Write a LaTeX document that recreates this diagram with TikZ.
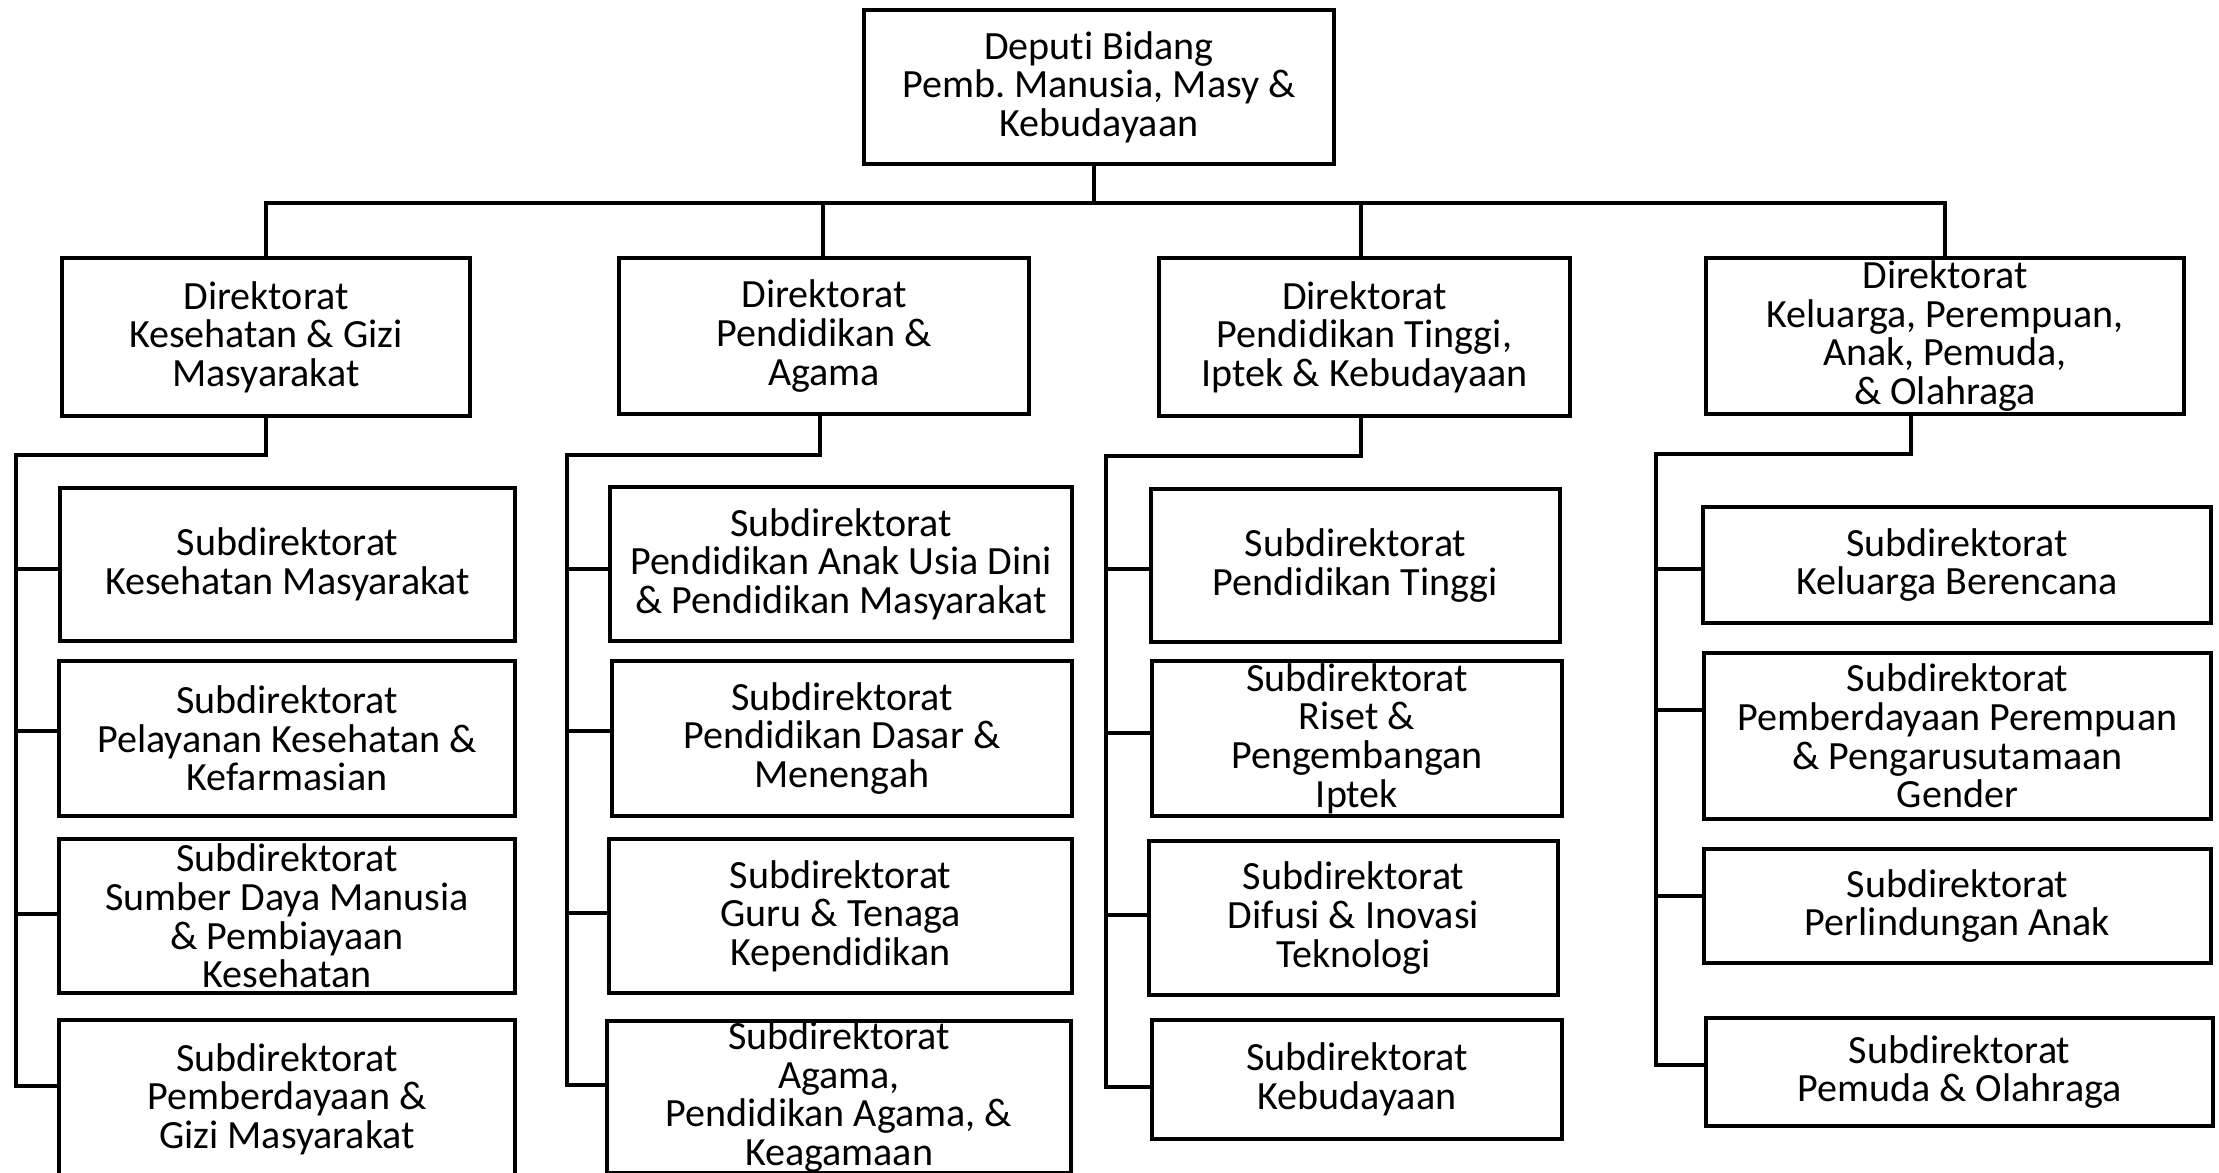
\documentclass[tikz,border=0pt]{standalone}
\usepackage{fontspec}
\setmainfont{Carlito}[Ligatures=NoCommon]
\frenchspacing
\newcommand\orgbox[6]{\node[orgb, minimum width={(#4-#2-4)*0.02cm}, minimum height={(#5-#3-4)*0.02cm}] (#1) at ({(#2+#4)/2},{(#3+#5)/2}) {#6};}
\begin{document}
\begin{tikzpicture}[x=0.02cm,y=-0.02cm,
  orgb/.style={draw=black, line width=2.3pt, align=center, inner sep=0pt, fill=white,
    font=\fontsize{22.8}{22}\selectfont},
  conn/.style={draw=black, line width=1.9pt}]
\useasboundingbox (0,0) rectangle (2219,1173);
\clip (0,0) rectangle (2219,1173);
% top
\orgbox{top}{862}{8}{1336}{166}{Deputi Bidang\\Pemb. Manusia, Masy \&\\Kebudayaan}
% directorates
\orgbox{d1}{60}{256}{472}{418}{Direktorat\\Kesehatan \& Gizi\\Masyarakat}
\orgbox{d2}{617}{256}{1031}{416}{Direktorat\\Pendidikan \&\\Agama}
\orgbox{d3}{1157}{256}{1572}{418}{Direktorat\\Pendidikan Tinggi,\\Iptek \& Kebudayaan}
\orgbox{d4}{1704}{256}{2186}{416}{Direktorat\\Keluarga, Perempuan,\\Anak, Pemuda,\\\& Olahraga}
% column 1
\orgbox{s11}{58}{486}{517}{643}{Subdirektorat\\Kesehatan Masyarakat}
\orgbox{s12}{57}{659}{517}{818}{Subdirektorat\\Pelayanan Kesehatan \&\\Kefarmasian}
\orgbox{s13}{57}{837}{517}{995}{Subdirektorat\\Sumber Daya Manusia\\\& Pembiayaan\\Kesehatan}
\orgbox{s14}{57}{1018}{517}{1180}{Subdirektorat\\Pemberdayaan \&\\Gizi Masyarakat}
% column 2
\orgbox{s21}{608}{485}{1074}{643}{Subdirektorat\\Pendidikan Anak Usia Dini\\\& Pendidikan Masyarakat}
\orgbox{s22}{610}{659}{1074}{818}{Subdirektorat\\Pendidikan Dasar \&\\Menengah}
\orgbox{s23}{607}{837}{1074}{995}{Subdirektorat\\Guru \& Tenaga\\Kependidikan}
\orgbox{s24}{605}{1019}{1073}{1175}{Subdirektorat\\Agama,\\Pendidikan Agama, \&\\Keagamaan}
% column 3
\orgbox{s31}{1149}{487}{1562}{644}{Subdirektorat\\Pendidikan Tinggi}
\orgbox{s32}{1150}{659}{1564}{818}{Subdirektorat\\Riset \&\\Pengembangan\\Iptek}
\orgbox{s33}{1147}{839}{1560}{997}{Subdirektorat\\Difusi \& Inovasi\\Teknologi}
\orgbox{s34}{1150}{1018}{1564}{1141}{Subdirektorat\\Kebudayaan}
% column 4
\orgbox{s41}{1701}{505}{2213}{625}{Subdirektorat\\Keluarga Berencana}
\orgbox{s42}{1702}{651}{2213}{821}{Subdirektorat\\Pemberdayaan Perempuan\\\& Pengarusutamaan\\Gender}
\orgbox{s43}{1702}{847}{2213}{965}{Subdirektorat\\Perlindungan Anak}
\orgbox{s44}{1704}{1016}{2215}{1128}{Subdirektorat\\Pemuda \& Olahraga}
% bus from top
\coordinate (bus) at (1094,203);
\draw[conn] (top.south -| bus) -- (bus);
\draw[conn] (d1.north) |- (bus) -| (d4.north);
\draw[conn] (d2.north -| 823,0) -- (823,203);
\draw[conn] (d3.north -| 1361,0) -- (1361,203);
% column 1 tree
\coordinate (c1) at (16,455);
\draw[conn] (d1.south) |- (c1) |- (s14.west |- 0,1086);
\draw[conn] (c1 |- 0,569) -- (s11.west |- 0,569);
\draw[conn] (c1 |- 0,731) -- (s12.west |- 0,731);
\draw[conn] (c1 |- 0,914) -- (s13.west |- 0,914);
% column 2 tree
\coordinate (c2) at (567,455);
\draw[conn] (d2.south -| 820,0) |- (c2) |- (s24.west |- 0,1085);
\draw[conn] (c2 |- 0,569) -- (s21.west |- 0,569);
\draw[conn] (c2 |- 0,731) -- (s22.west |- 0,731);
\draw[conn] (c2 |- 0,913) -- (s23.west |- 0,913);
% column 3 tree
\coordinate (c3) at (1106,456);
\draw[conn] (d3.south -| 1361,0) |- (c3) |- (s34.west |- 0,1087);
\draw[conn] (c3 |- 0,569) -- (s31.west |- 0,569);
\draw[conn] (c3 |- 0,733) -- (s32.west |- 0,733);
\draw[conn] (c3 |- 0,915) -- (s33.west |- 0,915);
% column 4 tree
\coordinate (c4) at (1656,454);
\draw[conn] (d4.south -| 1911,0) |- (c4) |- (s44.west |- 0,1065);
\draw[conn] (c4 |- 0,569) -- (s41.west |- 0,569);
\draw[conn] (c4 |- 0,710) -- (s42.west |- 0,710);
\draw[conn] (c4 |- 0,896) -- (s43.west |- 0,896);
\end{tikzpicture}
\end{document}
